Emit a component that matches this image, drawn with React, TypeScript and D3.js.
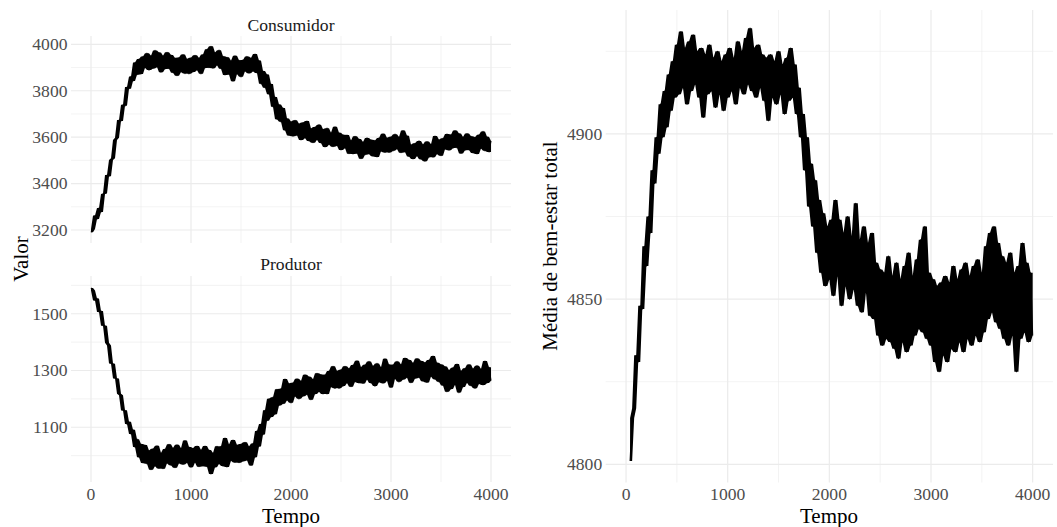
import React from "react";
import * as d3 from "d3";

// Simulation output sampled every STEP time units
const STEP = 20;

// Consumidor, t = 0, 20, ..., 4000
const consumidor = [
  3190, 3204, 3262, 3247, 3295, 3278, 3355, 3357, 3437, 3432, 3502, 3509, 3588, 3598, 3674, 3670, 3740, 3735, 3816, 3809,
  3862, 3842, 3922, 3869, 3937, 3872, 3948, 3899, 3962, 3889, 3951, 3896, 3974, 3902, 3965, 3880, 3951, 3894, 3966, 3895,
  3954, 3878, 3941, 3865, 3943, 3881, 3956, 3874, 3937, 3873, 3942, 3881, 3953, 3889, 3941, 3873, 3956, 3898, 3979, 3899,
  3992, 3897, 3965, 3910, 3975, 3895, 3949, 3868, 3944, 3870, 3929, 3841, 3951, 3872, 3931, 3860, 3933, 3884, 3948, 3876,
  3941, 3884, 3958, 3877, 3930, 3830, 3885, 3813, 3870, 3785, 3829, 3731, 3773, 3677, 3741, 3666, 3726, 3630, 3680, 3607,
  3667, 3604, 3673, 3608, 3658, 3588, 3663, 3597, 3670, 3584, 3637, 3576, 3644, 3589, 3654, 3575, 3634, 3558, 3639, 3568,
  3619, 3559, 3645, 3563, 3619, 3545, 3610, 3553, 3609, 3529, 3586, 3528, 3604, 3530, 3592, 3507, 3579, 3524, 3597, 3528,
  3589, 3518, 3586, 3515, 3597, 3539, 3615, 3534, 3597, 3534, 3602, 3541, 3613, 3549, 3601, 3533, 3629, 3536, 3606, 3517,
  3567, 3506, 3574, 3519, 3584, 3505, 3568, 3496, 3581, 3514, 3569, 3514, 3605, 3528, 3589, 3520, 3595, 3548, 3614, 3544,
  3611, 3553, 3629, 3554, 3616, 3530, 3601, 3544, 3616, 3545, 3604, 3532, 3600, 3528, 3610, 3551, 3625, 3541, 3602, 3536,
  3584,
];

// Produtor, t = 0, 20, ..., 4000
const produtor = [
  1591, 1582, 1547, 1554, 1506, 1510, 1458, 1458, 1398, 1388, 1325, 1324, 1272, 1272, 1218, 1213, 1159, 1160, 1111, 1119,
  1076, 1091, 1030, 1058, 994, 1041, 974, 1037, 971, 1018, 950, 1024, 963, 1035, 955, 1009, 954, 1023, 973, 1040,
  966, 1027, 957, 1038, 973, 1026, 969, 1053, 975, 1030, 959, 1026, 976, 1034, 961, 1020, 963, 1034, 961, 1020,
  935, 1009, 959, 1033, 971, 1033, 963, 1062, 960, 1039, 982, 1055, 976, 1037, 975, 1041, 980, 1047, 984, 1032,
  965, 1043, 994, 1087, 1032, 1111, 1074, 1160, 1123, 1200, 1136, 1206, 1146, 1234, 1177, 1236, 1183, 1270, 1195, 1254,
  1186, 1257, 1209, 1271, 1200, 1263, 1209, 1285, 1215, 1278, 1197, 1269, 1217, 1290, 1225, 1286, 1217, 1285, 1217, 1298,
  1242, 1315, 1237, 1298, 1237, 1303, 1245, 1315, 1256, 1307, 1243, 1319, 1260, 1334, 1256, 1311, 1254, 1320, 1268, 1332,
  1256, 1316, 1245, 1325, 1259, 1311, 1255, 1341, 1264, 1321, 1240, 1320, 1271, 1332, 1260, 1321, 1268, 1344, 1275, 1337,
  1257, 1326, 1272, 1342, 1275, 1333, 1262, 1328, 1258, 1337, 1279, 1351, 1269, 1327, 1260, 1321, 1247, 1314, 1225, 1301,
  1235, 1310, 1250, 1323, 1222, 1298, 1242, 1308, 1257, 1321, 1246, 1306, 1237, 1317, 1253, 1305, 1249, 1333, 1256, 1311,
  1264,
];

// Média de bem-estar total, t = 40, 60, ..., 4000
const WELFARE_START = 40;
const bemEstar = [
  4801, 4814, 4817, 4833, 4831, 4848, 4847, 4866, 4860, 4875, 4870, 4889, 4885, 4899, 4894, 4909, 4899, 4913, 4902, 4918,
  4907, 4922, 4911, 4927, 4912, 4931, 4914, 4926, 4909, 4928, 4913, 4930, 4915, 4925, 4911, 4926, 4905, 4924, 4912, 4927,
  4913, 4923, 4908, 4925, 4912, 4922, 4907, 4924, 4911, 4926, 4913, 4923, 4909, 4928, 4914, 4925, 4912, 4929, 4915, 4932,
  4913, 4926, 4911, 4927, 4914, 4924, 4910, 4923, 4904, 4924, 4911, 4922, 4909, 4925, 4912, 4921, 4906, 4923, 4910, 4926,
  4911, 4921, 4906, 4914, 4899, 4906, 4889, 4899, 4878, 4891, 4872, 4886, 4864, 4880, 4858, 4876, 4854, 4872, 4856, 4874,
  4851, 4880, 4857, 4874, 4848, 4870, 4854, 4875, 4850, 4869, 4853, 4879, 4848, 4868, 4846, 4872, 4852, 4867, 4845, 4870,
  4844, 4861, 4839, 4859, 4836, 4858, 4838, 4863, 4837, 4857, 4835, 4861, 4832, 4856, 4837, 4860, 4834, 4864, 4836, 4857,
  4839, 4862, 4841, 4868, 4840, 4872, 4838, 4858, 4836, 4856, 4831, 4854, 4828, 4855, 4833, 4857, 4831, 4855, 4835, 4860,
  4834, 4856, 4837, 4859, 4834, 4861, 4838, 4857, 4836, 4860, 4839, 4862, 4837, 4858, 4840, 4866, 4844, 4870, 4846, 4872,
  4843, 4867, 4841, 4863, 4838, 4861, 4836, 4864, 4839, 4858, 4828, 4860, 4838, 4867, 4840, 4861, 4837, 4858, 4839,
];

const xMajor = [0, 1000, 2000, 3000, 4000];
const xMinor = [500, 1500, 2500, 3500];
const consMajor = [3200, 3400, 3600, 3800, 4000];
const consMinor = [3300, 3500, 3700, 3900];
const prodMajor = [1100, 1300, 1500];
const prodMinor = [1000, 1200, 1400, 1600];
const welfMajor = [4800, 4850, 4900];
const welfMinor = [4825, 4875, 4925];

const FONT = '"Liberation Serif", "Times New Roman", serif';
const GRID = "#EBEBEB";
const TICK_COLOR = "#4D4D4D";
const TICK_SIZE = 17.6;
const TITLE_SIZE = 21;

type Scale = d3.ScaleLinear<number, number>;

function Panel({
  x,
  y,
  yMajor,
  yMinor,
  values,
  start,
}: {
  x: Scale;
  y: Scale;
  yMajor: number[];
  yMinor: number[];
  values: number[];
  start: number;
}) {
  const [x0, x1] = x.range();
  const [y1, y0] = y.range();
  const tx = (_: number, i: number) => x(start + i * STEP);
  // the series is far denser than the pixel grid: its ink fills the local min–max range
  const near = (i: number) => values.slice(Math.max(0, i - 1), i + 2);
  const ink = d3
    .area<number>()
    .x(tx)
    .y0((_, i) => y(d3.min(near(i)) as number))
    .y1((_, i) => y(d3.max(near(i)) as number));
  const line = d3
    .line<number>()
    .x(tx)
    .y((d) => y(d));
  return (
    <g>
      {yMinor.map((v) => (
        <line key={"ym" + v} x1={x0} x2={x1} y1={y(v)} y2={y(v)} stroke={GRID} strokeWidth={0.6} />
      ))}
      {xMinor.map((v) => (
        <line key={"xm" + v} x1={x(v)} x2={x(v)} y1={y0} y2={y1} stroke={GRID} strokeWidth={0.6} />
      ))}
      {yMajor.map((v) => (
        <line key={"yM" + v} x1={x0} x2={x1} y1={y(v)} y2={y(v)} stroke={GRID} strokeWidth={1.2} />
      ))}
      {xMajor.map((v) => (
        <line key={"xM" + v} x1={x(v)} x2={x(v)} y1={y0} y2={y1} stroke={GRID} strokeWidth={1.2} />
      ))}
      <path d={ink(values) || ""} fill="#000" stroke="none" />
      <path d={line(values) || ""} fill="none" stroke="#000" strokeWidth={1.1} strokeLinejoin="round" />
      {yMajor.map((v) => (
        <text
          key={"yl" + v}
          x={x0 - 3.5}
          y={y(v) + TICK_SIZE * 0.33}
          textAnchor="end"
          fontSize={TICK_SIZE}
          fill={TICK_COLOR}
          fontFamily={FONT}
        >
          {v}
        </text>
      ))}
    </g>
  );
}

function XTicks({ x, baseline }: { x: Scale; baseline: number }) {
  return (
    <g>
      {xMajor.map((v) => (
        <text
          key={"xl" + v}
          x={x(v)}
          y={baseline}
          textAnchor="middle"
          fontSize={TICK_SIZE}
          fill={TICK_COLOR}
          fontFamily={FONT}
        >
          {v}
        </text>
      ))}
    </g>
  );
}

export default function App() {
  const xLeft = d3.scaleLinear().domain([-200, 4200]).range([71, 511]);
  const yCons = d3.scaleLinear().domain([3144, 4036]).range([243, 36]);
  const yProd = d3.scaleLinear().domain([907, 1633]).range([482, 276]);
  const xRight = d3.scaleLinear().domain([-200, 4200]).range([605.7, 1053]);
  const yWelf = d3.scaleLinear().domain([4794.5, 4937.5]).range([482.5, 10]);

  return (
    <svg
      width={1057}
      height={527}
      viewBox="0 0 1057 527"
      style={{ position: "absolute", left: 0, top: 0, background: "#fff" }}
    >
      <rect width={1057} height={527} fill="#fff" />

      <text x={291} y={30.5} textAnchor="middle" fontSize={TICK_SIZE} fill="#1A1A1A" fontFamily={FONT}>
        Consumidor
      </text>
      <Panel x={xLeft} y={yCons} yMajor={consMajor} yMinor={consMinor} values={consumidor} start={0} />

      <text x={291} y={270} textAnchor="middle" fontSize={TICK_SIZE} fill="#1A1A1A" fontFamily={FONT}>
        Produtor
      </text>
      <Panel x={xLeft} y={yProd} yMajor={prodMajor} yMinor={prodMinor} values={produtor} start={0} />
      <XTicks x={xLeft} baseline={499.5} />

      <text x={291} y={522.5} textAnchor="middle" fontSize={TITLE_SIZE} fill="#000" fontFamily={FONT}>
        Tempo
      </text>
      <text
        transform="translate(28,259) rotate(-90)"
        textAnchor="middle"
        fontSize={TITLE_SIZE}
        fill="#000"
        fontFamily={FONT}
      >
        Valor
      </text>

      <Panel x={xRight} y={yWelf} yMajor={welfMajor} yMinor={welfMinor} values={bemEstar} start={WELFARE_START} />
      <XTicks x={xRight} baseline={499.5} />
      <text x={829} y={522.5} textAnchor="middle" fontSize={TITLE_SIZE} fill="#000" fontFamily={FONT}>
        Tempo
      </text>
      <text
        transform="translate(557,246) rotate(-90)"
        textAnchor="middle"
        fontSize={TITLE_SIZE}
        fill="#000"
        fontFamily={FONT}
      >
        Média de bem-estar total
      </text>
    </svg>
  );
}
